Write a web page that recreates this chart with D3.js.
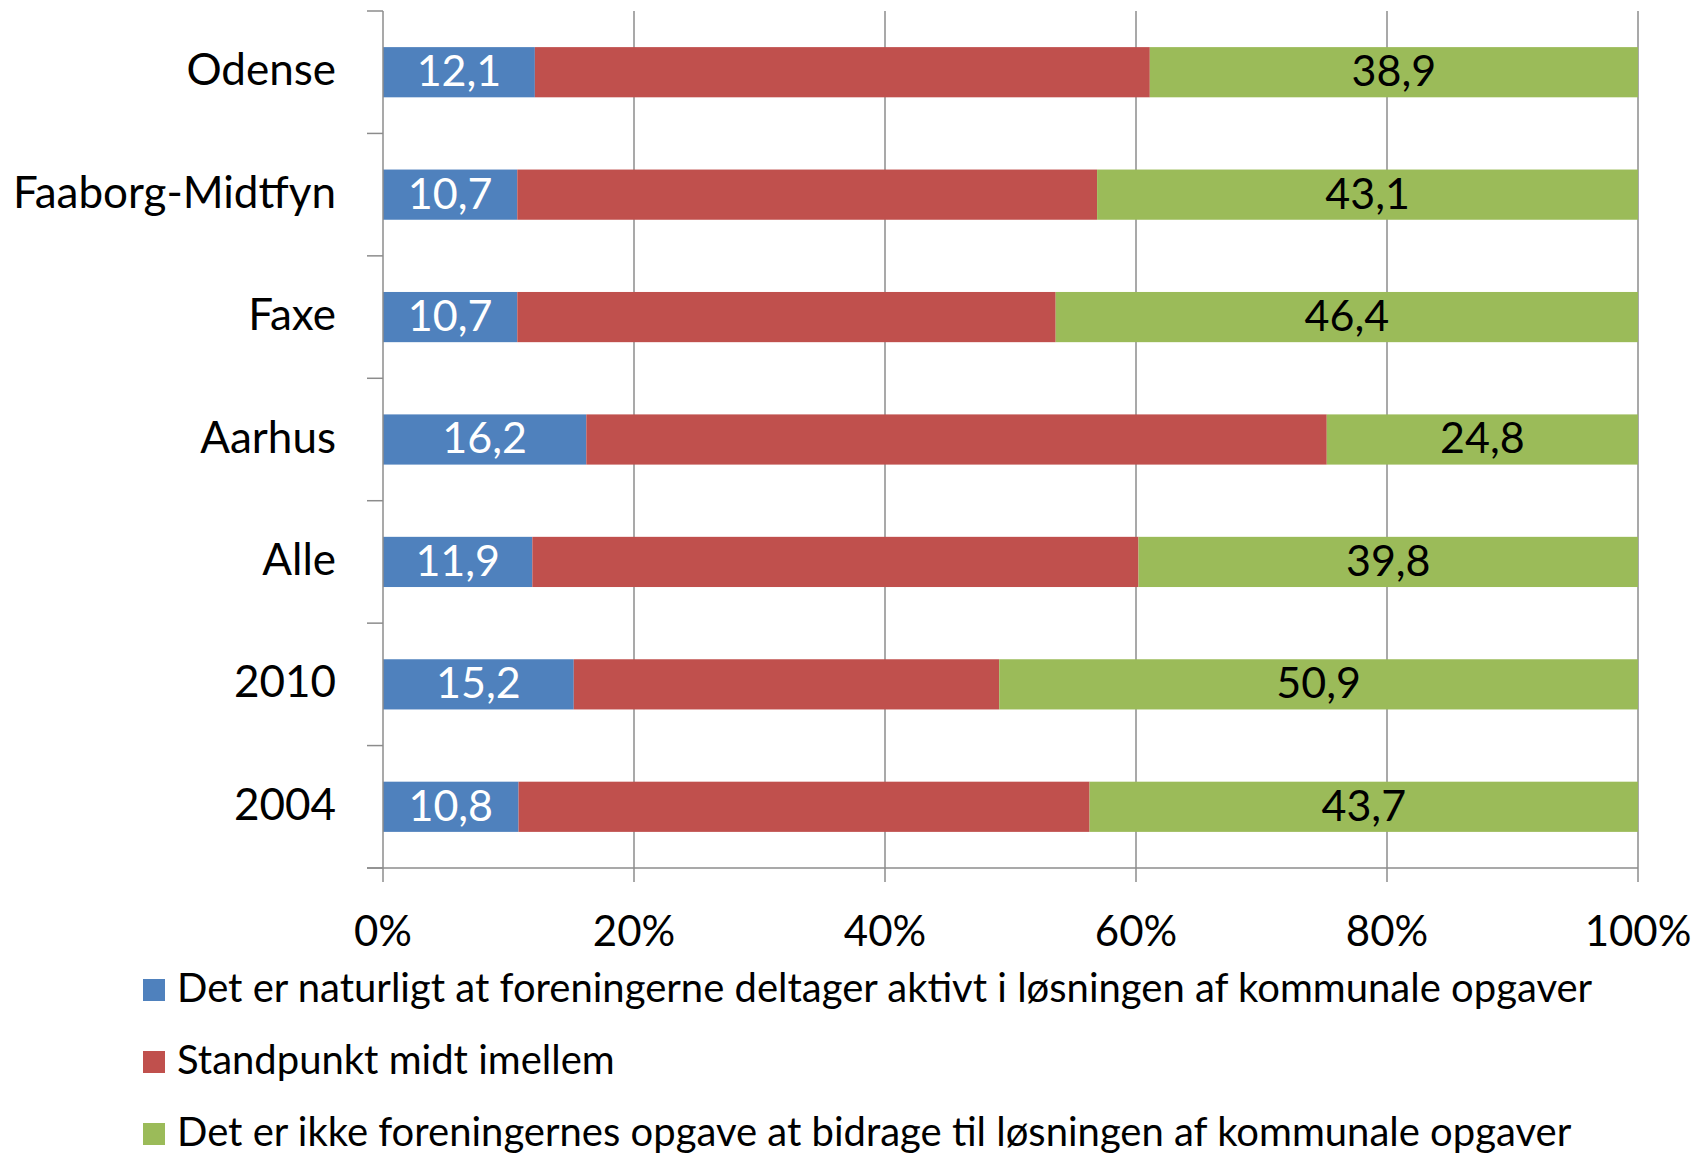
<!DOCTYPE html>
<html>
<head>
<meta charset="utf-8">
<script src="https://cdn.jsdelivr.net/npm/d3@7"></script>
<style>
    body { margin: 0; background: #fff; }
    svg { display: block; font-family: "Lato", "Noto Sans", sans-serif; }
</style>
</head>
<body>
<div id="chart"></div>
<script>
    const categories = ["Odense", "Faaborg-Midtfyn", "Faxe", "Aarhus", "Alle", "2010", "2004"];
    const naturligt = [12.1, 10.7, 10.7, 16.2, 11.9, 15.2, 10.8];
    const midtImellem = [49.0, 46.2, 42.9, 59.0, 48.3, 33.9, 45.5];
    const ikkeOpgave = [38.9, 43.1, 46.4, 24.8, 39.8, 50.9, 43.7];
    const seriesNames = [
        "Det er naturligt at foreningerne deltager aktivt i løsningen af kommunale opgaver",
        "Standpunkt midt imellem",
        "Det er ikke foreningernes opgave at bidrage til løsningen af kommunale opgaver"
    ];
    const xTicks = [0, 20, 40, 60, 80, 100];

    const width = 1707;
    const height = 1154;
    const marginTop = 11;
    const marginLeft = 383;
    const marginRight = 69;
    const plotBottom = 868;

    const colors = ["#4F81BD", "#C0504D", "#9BBB59"];
    const labelColors = ["#fff", null, "#000"];
    const gridColor = "#8c8c8c";

    const svg = d3.select("#chart")
        .append("svg")
        .attr("width", width)
        .attr("height", height);

    const x = d3.scaleLinear()
        .domain([0, 100])
        .range([marginLeft, width - marginRight]);

    const y = d3.scaleBand()
        .domain(categories)
        .range([marginTop, plotBottom])
        .paddingInner(0.59)
        .paddingOuter(0.295);

    // build stacked rows
    const rows = categories.map((c, i) => ({
        category: c,
        values: [naturligt[i], midtImellem[i], ikkeOpgave[i]]
    }));
    const segments = [];
    rows.forEach((r) => {
        let start = 0;
        r.values.forEach((v, s) => {
            segments.push({ category: r.category, series: s, start: start, value: v });
            start += v;
        });
    });

    // vertical gridlines
    svg.append("g")
        .selectAll("line")
        .data(xTicks.slice(1))
        .enter()
        .append("line")
        .attr("x1", (d) => x(d))
        .attr("x2", (d) => x(d))
        .attr("y1", marginTop)
        .attr("y2", plotBottom)
        .attr("stroke", gridColor)
        .attr("stroke-width", 1.5);

    // bars
    svg.append("g")
        .selectAll("rect")
        .data(segments)
        .enter()
        .append("rect")
        .attr("x", (d) => x(d.start))
        .attr("width", (d) => x(d.start + d.value) - x(d.start))
        .attr("y", (d) => y(d.category))
        .attr("height", y.bandwidth())
        .attr("fill", (d) => colors[d.series]);

    // data labels (red series has none)
    svg.append("g")
        .selectAll("text")
        .data(segments.filter((d) => labelColors[d.series]))
        .enter()
        .append("text")
        .attr("x", (d) => x(d.start + d.value / 2))
        .attr("y", (d) => y(d.category) + y.bandwidth() / 2 + 3)
        .attr("text-anchor", "middle")
        .attr("dominant-baseline", "middle")
        .style("font-size", "43px")
        .style("fill", (d) => labelColors[d.series])
        .text((d) => d3.format(".1f")(d.value).replace(".", ","));

    // y axis
    const yAxis = svg.append("g")
        .attr("transform", `translate(${marginLeft},0)`);
    yAxis.append("line")
        .attr("x1", 0).attr("x2", 0)
        .attr("y1", marginTop).attr("y2", plotBottom)
        .attr("stroke", gridColor).attr("stroke-width", 1.5);
    const step = y.step();
    yAxis.selectAll(".ytick")
        .data(d3.range(categories.length + 1))
        .enter()
        .append("line")
        .attr("x1", -16).attr("x2", 0)
        .attr("y1", (d) => marginTop + d * step)
        .attr("y2", (d) => marginTop + d * step)
        .attr("stroke", gridColor).attr("stroke-width", 1.5);
    yAxis.selectAll("text")
        .data(categories)
        .enter()
        .append("text")
        .attr("x", -47)
        .attr("y", (d) => y(d) + y.bandwidth() / 2 + 2)
        .attr("text-anchor", "end")
        .attr("dominant-baseline", "middle")
        .style("font-size", "44px")
        .text((d) => d);

    // x axis
    const xAxis = svg.append("g")
        .attr("transform", `translate(0,${plotBottom})`);
    xAxis.append("line")
        .attr("x1", marginLeft - 16).attr("x2", x(100))
        .attr("stroke", gridColor).attr("stroke-width", 1.5);
    xAxis.selectAll(".xtick")
        .data(xTicks)
        .enter()
        .append("line")
        .attr("x1", (d) => x(d)).attr("x2", (d) => x(d))
        .attr("y1", 0).attr("y2", 14)
        .attr("stroke", gridColor).attr("stroke-width", 1.5);
    xAxis.selectAll("text")
        .data(xTicks)
        .enter()
        .append("text")
        .attr("x", (d) => x(d))
        .attr("y", 67)
        .attr("text-anchor", "middle")
        .attr("dominant-baseline", "middle")
        .style("font-size", "42px")
        .text((d) => d + "%");

    // legend
    const legend = svg.append("g")
        .selectAll("g")
        .data(seriesNames)
        .enter()
        .append("g")
        .attr("transform", (d, i) => `translate(143,${990 + i * 72})`);
    legend.append("rect")
        .attr("x", 0)
        .attr("y", -11)
        .attr("width", 22)
        .attr("height", 22)
        .attr("fill", (d, i) => colors[i]);
    legend.append("text")
        .attr("x", 34)
        .attr("y", 2)
        .attr("dominant-baseline", "middle")
        .style("font-size", "40px")
        .text((d) => d);
</script>
</body>
</html>
